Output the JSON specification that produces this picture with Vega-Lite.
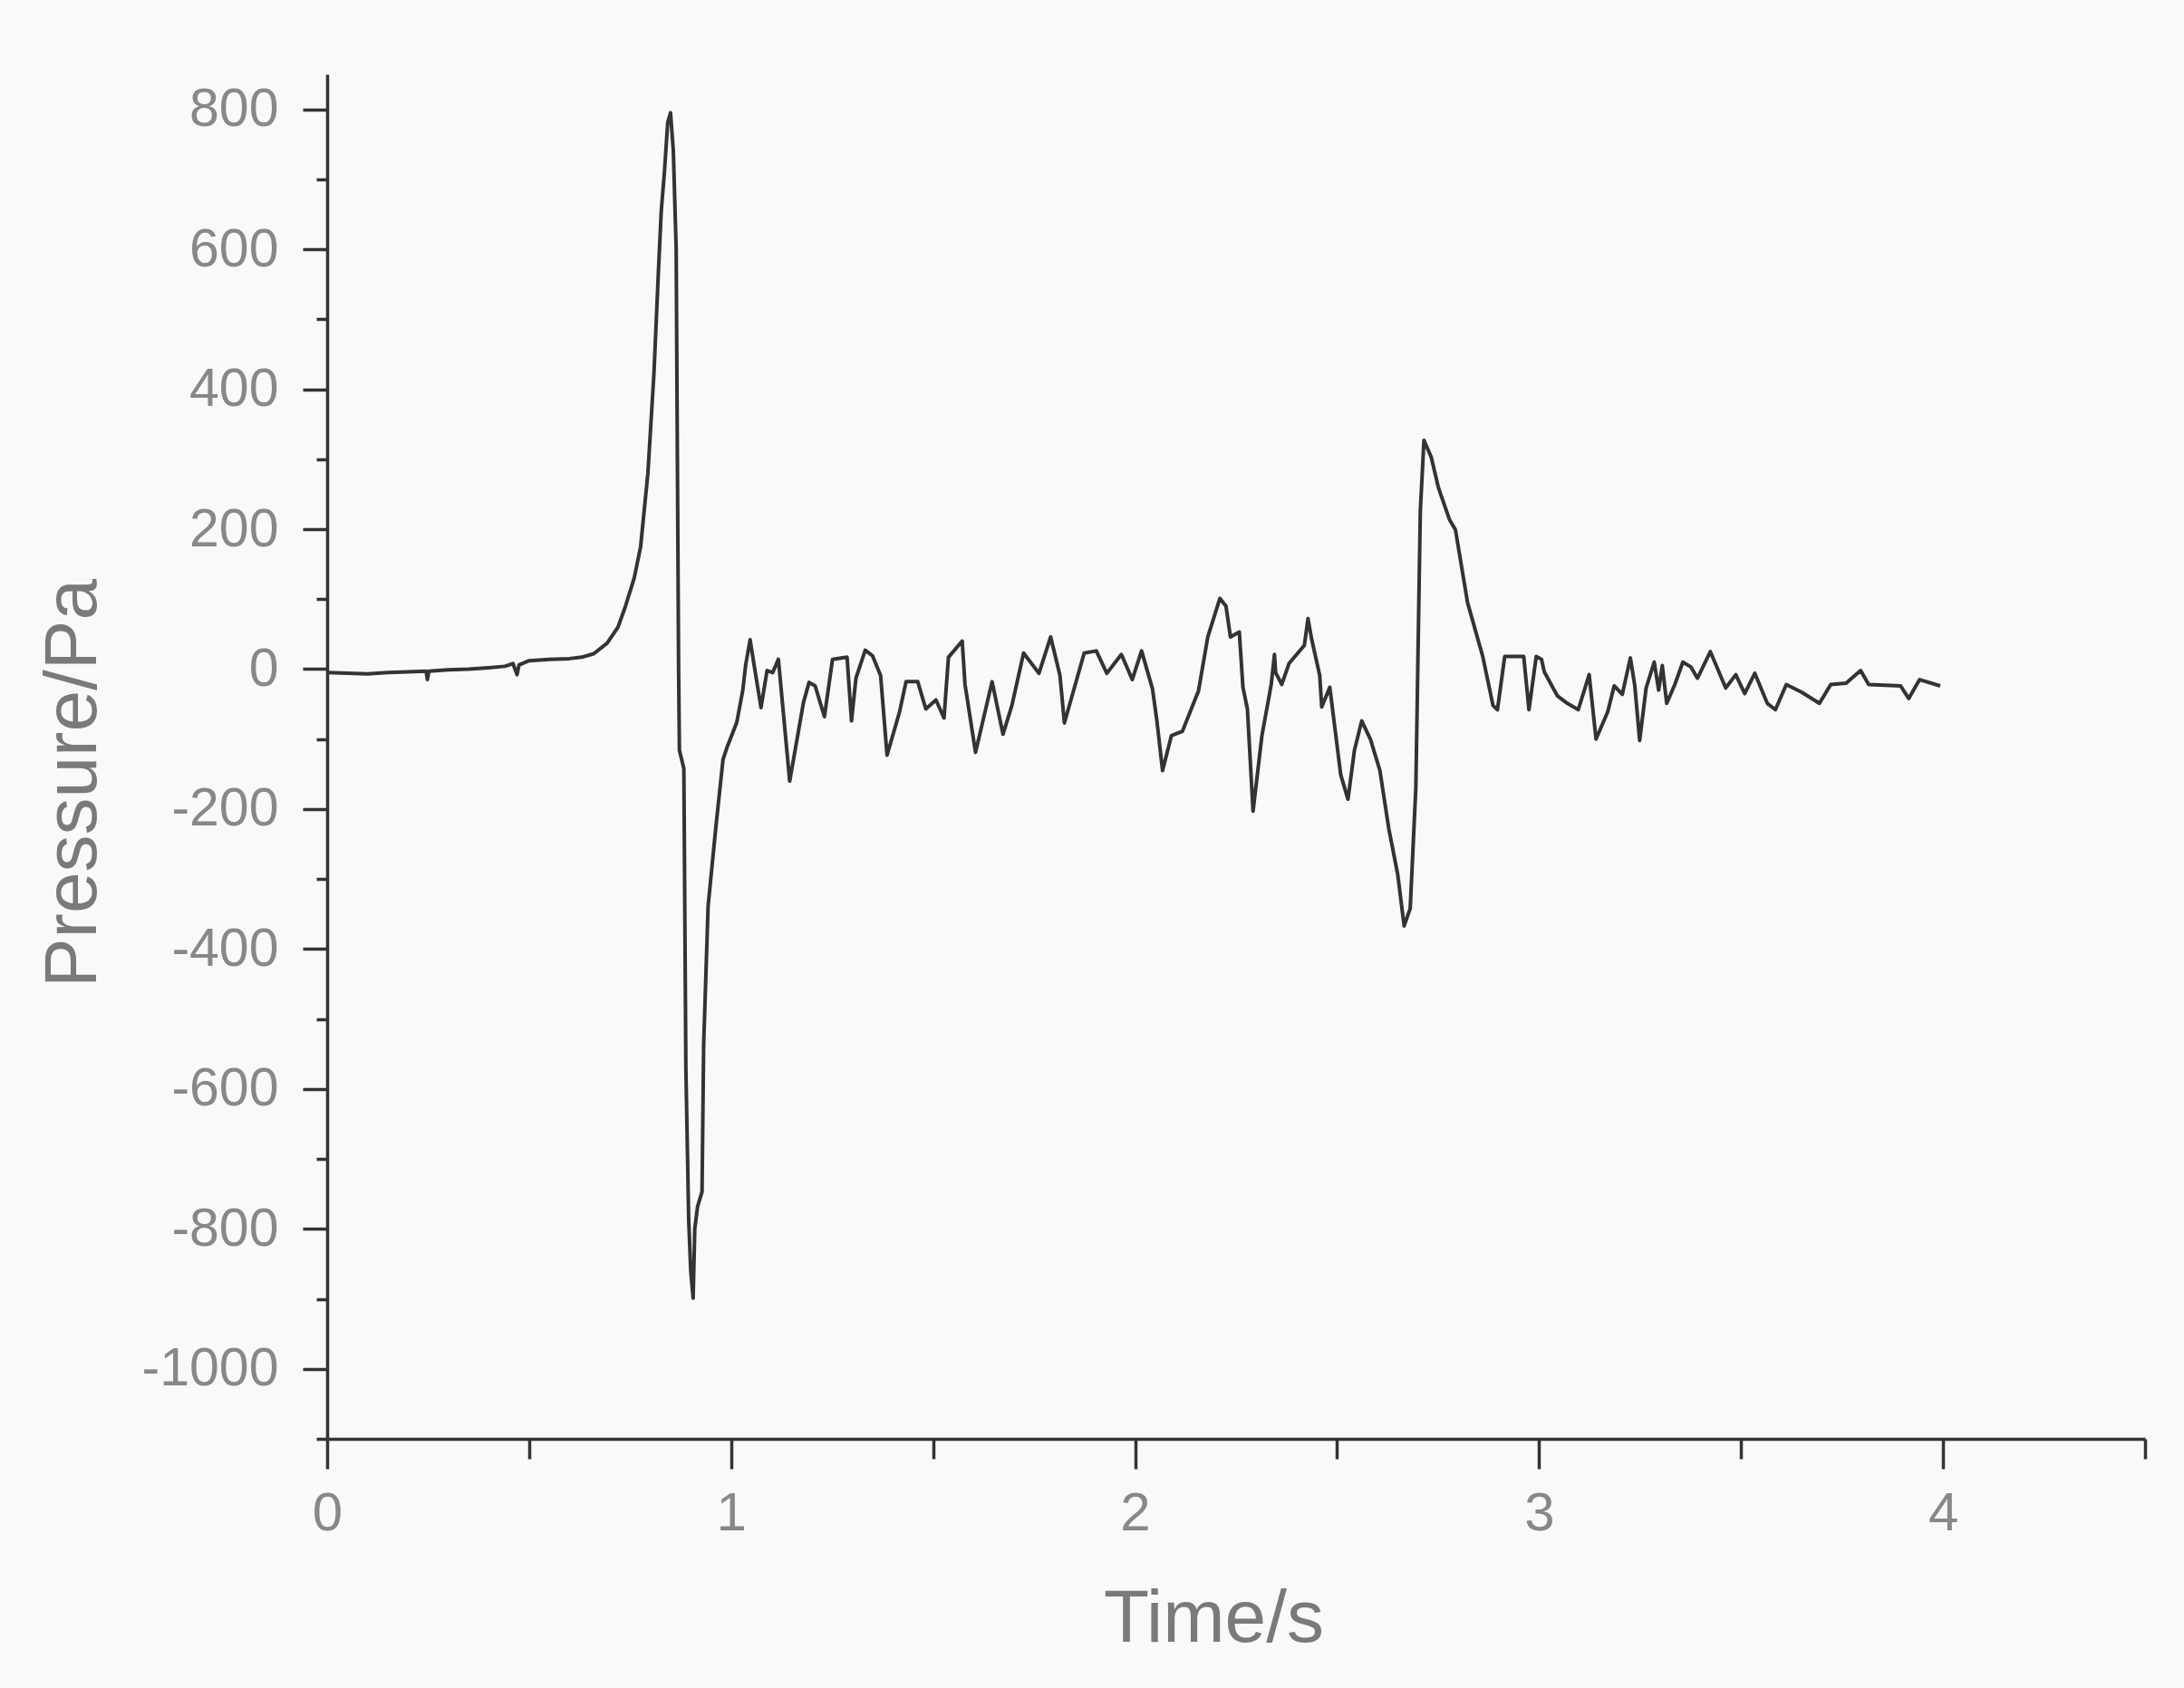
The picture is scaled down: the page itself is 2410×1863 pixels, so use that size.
{
  "$schema": "https://vega.github.io/schema/vega-lite/v6.json",
  "autosize": {"type": "none"},
  "width": 2006,
  "height": 1506,
  "padding": {"left": 361, "top": 82, "right": 43, "bottom": 275},
  "background": "#f9f9f9",
  "config": {"view": {"stroke": null}, "axis": {"grid": false}},
  "data": {"values": [
    {"t":0.000,"p":-5},{"t":0.05,"p":-6},{"t":0.10,"p":-7},{"t":0.15,"p":-5},{"t":0.20,"p":-4},
    {"t":0.245,"p":-3},{"t":0.248,"p":-15},{"t":0.252,"p":-3},{"t":0.30,"p":-1},{"t":0.35,"p":0},
    {"t":0.40,"p":2},{"t":0.44,"p":4},{"t":0.46,"p":8},{"t":0.47,"p":-8},{"t":0.475,"p":6},
    {"t":0.50,"p":12},{"t":0.55,"p":14},{"t":0.60,"p":15},{"t":0.63,"p":17},{"t":0.66,"p":22},
    {"t":0.693,"p":37},{"t":0.72,"p":60},{"t":0.738,"p":89},{"t":0.76,"p":130},{"t":0.776,"p":175},
    {"t":0.794,"p":280},{"t":0.809,"p":423},{"t":0.82,"p":568},{"t":0.827,"p":654},{"t":0.835,"p":711},
    {"t":0.843,"p":781},{"t":0.85,"p":795},{"t":0.857,"p":740},{"t":0.864,"p":600},{"t":0.867,"p":300},
    {"t":0.870,"p":0},{"t":0.872,"p":-116},{"t":0.883,"p":-142},{"t":0.888,"p":-570},{"t":0.895,"p":-787},
    {"t":0.900,"p":-860},{"t":0.906,"p":-899},{"t":0.910,"p":-800},{"t":0.917,"p":-768},{"t":0.928,"p":-747},
    {"t":0.932,"p":-537},{"t":0.943,"p":-339},{"t":0.962,"p":-227},{"t":0.98,"p":-129},{"t":0.991,"p":-110},
    {"t":1.014,"p":-76},{"t":1.029,"p":-30},{"t":1.036,"p":6},{"t":1.047,"p":42},{"t":1.056,"p":9},
    {"t":1.074,"p":-55},{"t":1.089,"p":-2},{"t":1.103,"p":-5},{"t":1.117,"p":14},{"t":1.145,"p":-160},
    {"t":1.179,"p":-48},{"t":1.193,"p":-19},{"t":1.208,"p":-24},{"t":1.231,"p":-68},{"t":1.251,"p":14},
    {"t":1.287,"p":17},{"t":1.298,"p":-74},{"t":1.309,"p":-13},{"t":1.332,"p":27},{"t":1.350,"p":19},
    {"t":1.370,"p":-9},{"t":1.386,"p":-123},{"t":1.417,"p":-61},{"t":1.433,"p":-18},{"t":1.462,"p":-18},
    {"t":1.482,"p":-57},{"t":1.507,"p":-44},{"t":1.527,"p":-70},{"t":1.538,"p":17},{"t":1.572,"p":40},
    {"t":1.579,"p":-22},{"t":1.605,"p":-119},{"t":1.646,"p":-18},{"t":1.673,"p":-93},{"t":1.695,"p":-52},
    {"t":1.724,"p":23},{"t":1.762,"p":-6},{"t":1.791,"p":46},{"t":1.814,"p":-9},{"t":1.825,"p":-77},
    {"t":1.874,"p":23},{"t":1.904,"p":26},{"t":1.930,"p":-6},{"t":1.966,"p":21},{"t":1.993,"p":-15},
    {"t":2.016,"p":26},{"t":2.043,"p":-28},{"t":2.054,"p":-74},{"t":2.068,"p":-145},{"t":2.090,"p":-95},
    {"t":2.117,"p":-89},{"t":2.157,"p":-31},{"t":2.180,"p":46},{"t":2.210,"p":101},{"t":2.225,"p":90},
    {"t":2.236,"p":46},{"t":2.258,"p":53},{"t":2.267,"p":-26},{"t":2.278,"p":-57},{"t":2.292,"p":-203},
    {"t":2.314,"p":-95},{"t":2.337,"p":-22},{"t":2.345,"p":21},{"t":2.348,"p":-5},{"t":2.363,"p":-22},
    {"t":2.381,"p":8},{"t":2.419,"p":34},{"t":2.428,"p":72},{"t":2.437,"p":43},{"t":2.457,"p":-9},
    {"t":2.462,"p":-54},{"t":2.482,"p":-26},{"t":2.509,"p":-151},{"t":2.527,"p":-186},{"t":2.543,"p":-116},
    {"t":2.561,"p":-74},{"t":2.583,"p":-101},{"t":2.606,"p":-145},{"t":2.628,"p":-228},{"t":2.650,"p":-293},
    {"t":2.666,"p":-367},{"t":2.681,"p":-342},{"t":2.695,"p":-169},{"t":2.706,"p":225},{"t":2.715,"p":327},
    {"t":2.733,"p":303},{"t":2.751,"p":259},{"t":2.778,"p":214},{"t":2.793,"p":199},{"t":2.823,"p":95},
    {"t":2.861,"p":17},{"t":2.886,"p":-52},{"t":2.897,"p":-58},{"t":2.915,"p":18},{"t":2.962,"p":18},
    {"t":2.975,"p":-58},{"t":2.993,"p":18},{"t":3.006,"p":14},{"t":3.013,"p":-4},{"t":3.045,"p":-38},
    {"t":3.07,"p":-49},{"t":3.097,"p":-58},{"t":3.124,"p":-8},{"t":3.141,"p":-100},{"t":3.17,"p":-61},
    {"t":3.186,"p":-24},{"t":3.206,"p":-36},{"t":3.226,"p":16},{"t":3.237,"p":-24},{"t":3.249,"p":-102},
    {"t":3.265,"p":-27},{"t":3.285,"p":10},{"t":3.296,"p":-30},{"t":3.305,"p":5},{"t":3.316,"p":-49},
    {"t":3.336,"p":-22},{"t":3.356,"p":10},{"t":3.376,"p":3},{"t":3.392,"p":-13},{"t":3.424,"p":25},
    {"t":3.462,"p":-27},{"t":3.487,"p":-8},{"t":3.509,"p":-35},{"t":3.534,"p":-6},{"t":3.565,"p":-49},
    {"t":3.585,"p":-58},{"t":3.612,"p":-22},{"t":3.65,"p":-33},{"t":3.694,"p":-49},{"t":3.722,"p":-22},
    {"t":3.76,"p":-20},{"t":3.796,"p":-2},{"t":3.816,"p":-22},{"t":3.895,"p":-24},{"t":3.915,"p":-42},
    {"t":3.942,"p":-15},{"t":3.993,"p":-24}
  ]},
  "mark": {"type": "line", "color": "#333333", "strokeWidth": 4, "strokeJoin": "round", "clip": true},
  "encoding": {
    "x": {
      "field": "t", "type": "quantitative",
      "scale": {"domain": [0, 4.5], "nice": false, "zero": false},
      "axis": {
        "title": "Time/s",
        "values": [0, 0.5, 1, 1.5, 2, 2.5, 3, 3.5, 4, 4.5],
        "labelExpr": "datum.value % 1 === 0 ? '' + datum.value : ''",
        "tickSize": {"condition": {"test": "datum.value % 1 === 0", "value": 33}, "value": 22},
        "tickColor": "#333333", "tickWidth": 3.5,
        "domainColor": "#333333", "domainWidth": 3.5,
        "labelFont": "Liberation Sans", "labelFontSize": 60, "labelColor": "#888888",
        "labelPadding": 20, "labelFlush": false,
        "titleFont": "Liberation Sans", "titleFontSize": 82, "titleFontWeight": "normal", "titleColor": "#7a7a7a",
        "titleBaseline": "middle", "titleX": 978, "titleY": 198
      }
    },
    "y": {
      "field": "p", "type": "quantitative",
      "scale": {"domain": [-1100, 850], "nice": false, "zero": false},
      "axis": {
        "title": "Pressure/Pa",
        "values": [-1100, -1000, -900, -800, -700, -600, -500, -400, -300, -200, -100, 0, 100, 200, 300, 400, 500, 600, 700, 800],
        "labelExpr": "datum.value % 200 === 0 ? '' + datum.value : ''",
        "tickSize": {"condition": {"test": "datum.value % 200 === 0", "value": 27}, "value": 12},
        "tickColor": "#333333", "tickWidth": 3.5,
        "domainColor": "#333333", "domainWidth": 3.5,
        "labelFont": "Liberation Sans", "labelFontSize": 59, "labelColor": "#888888",
        "labelPadding": 27, "labelFlush": false,
        "titleFont": "Liberation Sans", "titleFontSize": 82, "titleFontWeight": "normal", "titleColor": "#7a7a7a",
        "titleBaseline": "middle", "titleAngle": -90, "titleX": -281, "titleY": 782
      }
    }
  }
}
